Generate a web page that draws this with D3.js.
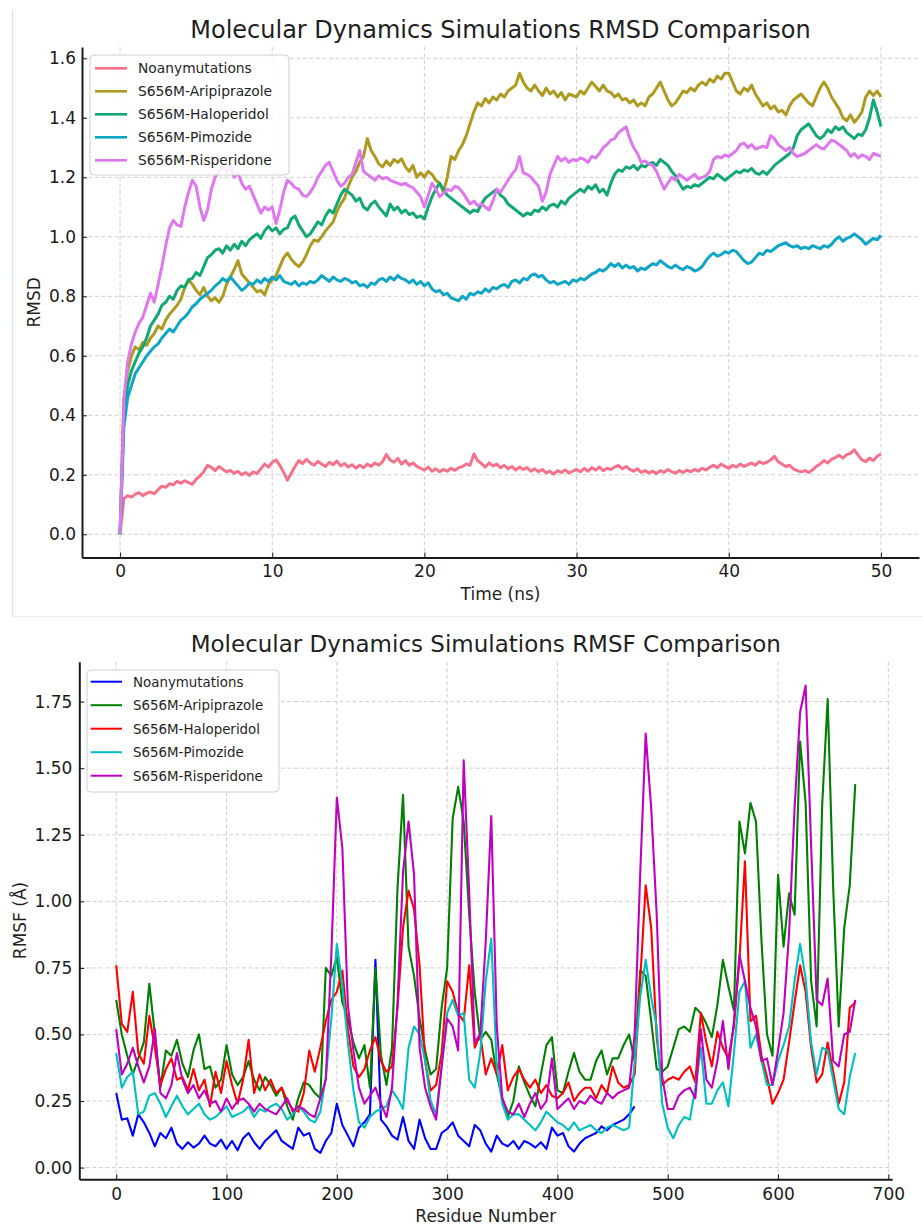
<!DOCTYPE html>
<html>
<head>
<meta charset="utf-8">
<script src="https://cdn.jsdelivr.net/npm/d3@7"></script>
<style>
  body { margin: 0; background: #fff; }
  text { font-family: "DejaVu Sans", sans-serif; }
</style>
</head>
<body>
<svg id="chart"></svg>
<script>
// ---- RMSD (top panel) ----
const rmsdSeries = ["Noanymutations", "S656M-Aripiprazole", "S656M-Haloperidol", "S656M-Pimozide", "S656M-Risperidone"];
const rmsdStep = 0.25; // ns between samples
const rmsdXTicks = [0, 10, 20, 30, 40, 50];
const rmsdYTicks = [0, 0.2, 0.4, 0.6, 0.8, 1.0, 1.2, 1.4, 1.6];

const rmsdNoMut = [0,0.12,0.13,0.125,0.135,0.14,0.13,0.138,0.142,0.136,
0.15,0.162,0.158,0.17,0.166,0.178,0.172,0.18,0.174,0.168,
0.185,0.196,0.21,0.232,0.225,0.214,0.228,0.218,0.21,0.215,
0.205,0.212,0.2,0.208,0.198,0.21,0.204,0.22,0.236,0.226,
0.242,0.25,0.232,0.208,0.182,0.205,0.228,0.248,0.238,0.252,
0.24,0.232,0.245,0.236,0.228,0.242,0.234,0.246,0.23,0.238,
0.226,0.234,0.222,0.232,0.224,0.236,0.228,0.24,0.232,0.244,
0.268,0.25,0.242,0.255,0.236,0.248,0.232,0.24,0.228,0.222,
0.216,0.226,0.212,0.22,0.21,0.218,0.212,0.222,0.215,0.224,
0.228,0.236,0.232,0.27,0.248,0.238,0.226,0.24,0.23,0.236,
0.224,0.232,0.22,0.228,0.216,0.226,0.218,0.224,0.212,0.22,
0.21,0.218,0.206,0.212,0.202,0.214,0.208,0.216,0.206,0.212,
0.218,0.21,0.222,0.212,0.224,0.216,0.226,0.214,0.222,0.218,
0.226,0.232,0.22,0.228,0.218,0.212,0.22,0.208,0.214,0.206,
0.212,0.204,0.214,0.208,0.218,0.21,0.206,0.214,0.208,0.216,
0.21,0.218,0.212,0.222,0.216,0.226,0.232,0.224,0.236,0.228,
0.222,0.232,0.226,0.236,0.228,0.234,0.24,0.232,0.244,0.238,
0.242,0.25,0.262,0.244,0.236,0.228,0.232,0.22,0.214,0.21,
0.214,0.208,0.216,0.228,0.236,0.248,0.24,0.252,0.258,0.266,
0.256,0.268,0.272,0.284,0.266,0.25,0.244,0.256,0.248,0.262,
0.27];

const rmsdAripiprazole = [0,0.45,0.55,0.6,0.63,0.62,0.645,0.635,0.66,0.675,
0.7,0.69,0.72,0.74,0.755,0.77,0.79,0.83,0.855,0.84,
0.82,0.805,0.83,0.8,0.785,0.795,0.78,0.8,0.84,0.865,
0.89,0.92,0.875,0.86,0.845,0.83,0.815,0.82,0.805,0.84,
0.855,0.87,0.9,0.93,0.945,0.925,0.91,0.9,0.915,0.94,
0.97,0.99,0.985,1.0,1.02,1.035,1.05,1.085,1.11,1.13,
1.17,1.2,1.22,1.25,1.27,1.33,1.29,1.27,1.245,1.235,
1.255,1.24,1.26,1.25,1.262,1.235,1.22,1.24,1.2,1.215,
1.2,1.22,1.21,1.19,1.18,1.15,1.2,1.27,1.26,1.29,
1.31,1.34,1.38,1.42,1.45,1.44,1.465,1.45,1.47,1.46,
1.48,1.47,1.49,1.5,1.51,1.55,1.52,1.5,1.49,1.51,
1.49,1.475,1.5,1.48,1.49,1.47,1.485,1.46,1.48,1.475,
1.47,1.49,1.48,1.5,1.52,1.505,1.49,1.51,1.49,1.485,
1.47,1.48,1.46,1.465,1.45,1.46,1.44,1.45,1.44,1.47,
1.48,1.5,1.52,1.49,1.46,1.44,1.45,1.47,1.49,1.485,
1.5,1.49,1.51,1.52,1.51,1.53,1.52,1.54,1.53,1.55,
1.55,1.52,1.49,1.48,1.5,1.49,1.51,1.48,1.46,1.44,
1.45,1.43,1.44,1.42,1.425,1.41,1.44,1.46,1.47,1.48,
1.465,1.45,1.44,1.47,1.5,1.52,1.5,1.47,1.45,1.43,
1.4,1.39,1.41,1.385,1.4,1.42,1.47,1.49,1.475,1.49,
1.47];

const rmsdHaloperidol = [0,0.4,0.5,0.55,0.58,0.61,0.63,0.66,0.7,0.72,
0.74,0.77,0.78,0.8,0.79,0.82,0.835,0.83,0.855,0.86,
0.88,0.87,0.9,0.93,0.94,0.955,0.96,0.945,0.97,0.955,
0.975,0.96,0.985,0.97,0.99,1.0,1.01,0.995,1.02,1.035,
1.02,1.03,1.01,1.025,1.03,1.06,1.07,1.04,1.02,1.0,
1.01,1.03,1.05,1.04,1.07,1.09,1.08,1.11,1.14,1.16,
1.15,1.14,1.12,1.13,1.1,1.09,1.11,1.12,1.1,1.085,
1.07,1.11,1.09,1.1,1.08,1.09,1.075,1.08,1.065,1.07,
1.06,1.1,1.135,1.16,1.18,1.16,1.14,1.13,1.12,1.11,
1.1,1.09,1.08,1.09,1.085,1.11,1.13,1.14,1.15,1.16,
1.14,1.13,1.11,1.1,1.09,1.08,1.07,1.08,1.075,1.09,
1.085,1.1,1.09,1.105,1.11,1.1,1.12,1.11,1.13,1.14,
1.15,1.16,1.15,1.17,1.16,1.175,1.15,1.16,1.14,1.18,
1.21,1.225,1.22,1.235,1.23,1.24,1.225,1.24,1.235,1.245,
1.25,1.24,1.26,1.25,1.24,1.22,1.205,1.18,1.16,1.17,
1.165,1.175,1.17,1.18,1.19,1.2,1.195,1.21,1.2,1.19,
1.2,1.21,1.22,1.215,1.225,1.22,1.23,1.215,1.21,1.22,
1.21,1.225,1.24,1.25,1.26,1.27,1.28,1.3,1.34,1.36,
1.37,1.38,1.36,1.34,1.33,1.34,1.36,1.35,1.37,1.36,
1.37,1.35,1.34,1.33,1.345,1.34,1.36,1.4,1.46,1.42,
1.37];

const rmsdPimozide = [0,0.36,0.46,0.5,0.54,0.56,0.58,0.6,0.615,0.63,
0.64,0.66,0.675,0.69,0.68,0.7,0.72,0.73,0.745,0.765,
0.775,0.79,0.8,0.81,0.82,0.835,0.845,0.86,0.85,0.865,
0.85,0.835,0.82,0.83,0.845,0.84,0.855,0.845,0.86,0.85,
0.865,0.855,0.87,0.85,0.845,0.84,0.85,0.835,0.845,0.84,
0.85,0.845,0.855,0.87,0.86,0.85,0.865,0.855,0.85,0.86,
0.855,0.845,0.85,0.835,0.84,0.83,0.845,0.84,0.855,0.86,
0.85,0.865,0.855,0.87,0.86,0.855,0.845,0.855,0.84,0.85,
0.835,0.845,0.825,0.815,0.82,0.805,0.81,0.795,0.79,0.785,
0.8,0.79,0.81,0.805,0.815,0.81,0.825,0.815,0.83,0.825,
0.835,0.84,0.83,0.85,0.855,0.845,0.86,0.855,0.87,0.875,
0.865,0.87,0.855,0.845,0.85,0.84,0.845,0.85,0.84,0.855,
0.85,0.86,0.855,0.865,0.875,0.88,0.89,0.885,0.895,0.91,
0.9,0.91,0.895,0.905,0.895,0.9,0.885,0.895,0.89,0.9,
0.91,0.905,0.92,0.91,0.9,0.895,0.905,0.895,0.89,0.9,
0.895,0.885,0.89,0.9,0.92,0.935,0.945,0.935,0.94,0.95,
0.945,0.955,0.95,0.935,0.92,0.91,0.915,0.93,0.945,0.94,
0.955,0.95,0.96,0.97,0.975,0.98,0.97,0.965,0.97,0.96,
0.965,0.96,0.97,0.965,0.96,0.97,0.965,0.975,0.99,1.0,
0.985,0.995,1.0,1.01,1.0,0.99,0.975,0.985,0.995,0.99,
1.005];

const rmsdRisperidone = [0,0.45,0.58,0.64,0.68,0.71,0.73,0.77,0.81,0.78,
0.84,0.9,0.97,1.03,1.055,1.04,1.035,1.1,1.15,1.19,
1.17,1.1,1.055,1.09,1.16,1.2,1.22,1.235,1.22,1.24,
1.2,1.215,1.18,1.16,1.17,1.14,1.11,1.08,1.1,1.09,
1.1,1.045,1.09,1.15,1.19,1.18,1.165,1.16,1.14,1.135,
1.15,1.17,1.2,1.22,1.24,1.25,1.22,1.19,1.17,1.18,
1.2,1.21,1.25,1.29,1.22,1.21,1.2,1.19,1.205,1.195,
1.2,1.19,1.185,1.18,1.175,1.18,1.17,1.165,1.15,1.135,
1.1,1.14,1.18,1.16,1.135,1.145,1.16,1.155,1.17,1.165,
1.15,1.13,1.11,1.12,1.105,1.11,1.1,1.09,1.12,1.16,
1.15,1.17,1.19,1.21,1.225,1.27,1.215,1.21,1.2,1.185,
1.17,1.12,1.15,1.21,1.24,1.27,1.255,1.265,1.25,1.26,
1.255,1.265,1.26,1.25,1.27,1.265,1.28,1.3,1.31,1.325,
1.33,1.35,1.36,1.37,1.33,1.3,1.28,1.25,1.255,1.245,
1.24,1.22,1.19,1.16,1.18,1.2,1.19,1.21,1.2,1.19,
1.2,1.21,1.195,1.2,1.205,1.22,1.26,1.27,1.265,1.275,
1.27,1.28,1.29,1.31,1.315,1.3,1.31,1.295,1.3,1.305,
1.3,1.34,1.33,1.31,1.3,1.29,1.3,1.28,1.27,1.275,
1.28,1.29,1.3,1.31,1.3,1.295,1.31,1.325,1.32,1.31,
1.3,1.29,1.27,1.28,1.265,1.275,1.27,1.26,1.28,1.275,
1.27];

// ---- RMSF (bottom panel) ----
const rmsfSeries = ["Noanymutations", "S656M-Aripiprazole", "S656M-Haloperidol", "S656M-Pimozide", "S656M-Risperidone"];
const rmsfStep = 5; // residues between samples
const rmsfXTicks = [0, 100, 200, 300, 400, 500, 600, 700];
const rmsfYTicks = [0, 0.25, 0.5, 0.75, 1.0, 1.25, 1.5, 1.75];

const rmsfNoMut = [0.28,0.18,0.185,0.12,0.2,0.17,0.13,0.08,0.13,0.11,
0.15,0.09,0.07,0.095,0.075,0.09,0.12,0.09,0.08,0.105,
0.07,0.1,0.065,0.11,0.13,0.095,0.07,0.1,0.12,0.14,
0.1,0.085,0.07,0.15,0.12,0.13,0.07,0.055,0.1,0.13,
0.24,0.16,0.12,0.08,0.15,0.17,0.2,0.78,0.18,0.155,
0.12,0.105,0.19,0.1,0.07,0.18,0.11,0.07,0.07,0.13,
0.145,0.17,0.12,0.1,0.08,0.16,0.14,0.09,0.06,0.12,
0.09,0.08,0.1,0.07,0.1,0.09,0.075,0.095,0.07,0.15,
0.12,0.13,0.08,0.06,0.09,0.11,0.12,0.13,0.155,0.14,
0.16,0.17,0.18,0.2,0.23];

const rmsfAripiprazole = [0.63,0.5,0.42,0.35,0.41,0.47,0.69,0.5,0.3,0.44,
0.42,0.48,0.39,0.34,0.44,0.5,0.37,0.38,0.3,0.33,
0.46,0.35,0.31,0.34,0.4,0.33,0.29,0.34,0.31,0.27,
0.3,0.23,0.18,0.26,0.32,0.31,0.28,0.26,0.75,0.72,
0.79,0.62,0.56,0.47,0.41,0.46,0.3,0.75,0.42,0.31,
0.45,1.05,1.4,0.83,0.72,0.56,0.44,0.35,0.37,0.6,
0.75,1.31,1.43,1.3,0.95,0.66,0.48,0.51,0.48,0.35,
0.26,0.19,0.25,0.38,0.32,0.27,0.23,0.35,0.46,0.49,
0.29,0.28,0.36,0.43,0.36,0.33,0.33,0.4,0.44,0.35,
0.41,0.41,0.46,0.5,0.4,0.74,0.72,0.55,0.37,0.36,
0.38,0.45,0.52,0.53,0.51,0.6,0.58,0.54,0.49,0.61,
0.78,0.68,0.59,1.3,1.18,1.37,1.3,0.85,0.5,0.42,
1.1,0.83,1.03,0.95,1.6,1.37,0.7,0.53,1.36,1.76,
1.05,0.53,0.9,1.06,1.44];

const rmsfHaloperidol = [0.76,0.54,0.51,0.66,0.43,0.39,0.57,0.45,0.31,0.37,
0.41,0.33,0.34,0.29,0.37,0.29,0.33,0.23,0.36,0.28,
0.4,0.31,0.24,0.33,0.48,0.28,0.35,0.29,0.33,0.28,
0.3,0.25,0.22,0.21,0.28,0.44,0.36,0.45,0.55,0.63,
0.66,0.74,0.52,0.38,0.34,0.37,0.44,0.49,0.4,0.36,
0.38,0.6,0.9,1.04,0.97,0.76,0.4,0.29,0.31,0.43,
0.7,0.66,0.58,0.55,0.76,0.45,0.5,0.35,0.41,0.35,
0.46,0.29,0.34,0.37,0.33,0.3,0.33,0.28,0.31,0.27,
0.26,0.28,0.32,0.25,0.28,0.3,0.3,0.26,0.31,0.28,
0.38,0.32,0.3,0.31,0.35,0.7,1.06,0.9,0.49,0.31,
0.33,0.34,0.33,0.36,0.38,0.32,0.58,0.47,0.38,0.51,
0.45,0.41,0.53,0.78,1.15,0.55,0.57,0.42,0.34,0.24,
0.28,0.33,0.47,0.62,0.76,0.66,0.45,0.32,0.35,0.47,
0.36,0.24,0.32,0.6,0.62];

const rmsfPimozide = [0.43,0.3,0.34,0.36,0.2,0.21,0.27,0.28,0.24,0.19,
0.23,0.27,0.23,0.2,0.22,0.24,0.2,0.18,0.19,0.21,
0.23,0.19,0.2,0.21,0.23,0.19,0.22,0.21,0.23,0.24,
0.22,0.18,0.2,0.23,0.21,0.18,0.17,0.21,0.34,0.56,
0.84,0.68,0.47,0.29,0.17,0.15,0.19,0.21,0.22,0.23,
0.29,0.26,0.22,0.45,0.53,0.5,0.4,0.25,0.2,0.38,
0.58,0.63,0.57,0.58,0.33,0.3,0.43,0.7,0.86,0.38,
0.24,0.18,0.2,0.2,0.18,0.16,0.14,0.17,0.21,0.19,
0.17,0.16,0.14,0.17,0.14,0.15,0.16,0.14,0.13,0.15,
0.16,0.15,0.14,0.15,0.4,0.64,0.78,0.64,0.53,0.24,
0.15,0.11,0.16,0.19,0.18,0.3,0.45,0.24,0.24,0.29,
0.32,0.23,0.43,0.66,0.7,0.45,0.5,0.4,0.31,0.31,
0.4,0.46,0.53,0.7,0.84,0.71,0.47,0.35,0.45,0.44,
0.33,0.22,0.2,0.34,0.43];

const rmsfRisperidone = [0.52,0.35,0.39,0.45,0.38,0.32,0.38,0.52,0.28,0.26,
0.31,0.43,0.33,0.28,0.31,0.26,0.29,0.24,0.25,0.21,
0.26,0.22,0.25,0.26,0.24,0.21,0.24,0.22,0.21,0.2,
0.23,0.26,0.21,0.23,0.22,0.2,0.19,0.26,0.33,0.8,
1.39,1.2,0.61,0.44,0.3,0.24,0.27,0.3,0.24,0.19,
0.3,0.62,1.11,1.3,1.1,0.45,0.3,0.23,0.18,0.38,
0.56,0.53,0.44,1.53,1.03,0.47,0.5,0.85,1.32,0.53,
0.26,0.21,0.2,0.24,0.19,0.24,0.28,0.22,0.25,0.41,
0.22,0.24,0.26,0.22,0.25,0.24,0.27,0.25,0.24,0.28,
0.26,0.28,0.29,0.3,0.5,1.1,1.63,1.35,0.95,0.34,
0.22,0.22,0.27,0.29,0.3,0.26,0.52,0.33,0.3,0.4,
0.55,0.37,0.55,0.8,0.7,0.6,0.53,0.4,0.41,0.31,
0.44,0.58,0.88,1.35,1.71,1.81,1.21,0.63,0.61,0.71,
0.4,0.38,0.5,0.51,0.63];

const rmsdColors = ["#f7718a", "#ae9a20", "#12a874", "#0ea5c6", "#df78ef"];
const rmsfColors = ["#0000ff", "#007f00", "#ff0000", "#00bfbf", "#bf00bf"];

const W = 923, H = 1227;
const svg = d3.select("#chart").attr("width", W).attr("height", H);

// faint frame left over from the screenshot
svg.append("line").attr("x1", 12.5).attr("x2", 12.5).attr("y1", 10).attr("y2", 616)
    .attr("stroke", "#d4e0ec").attr("stroke-width", 1.2);
svg.append("line").attr("x1", 12).attr("x2", W).attr("y1", 616.5).attr("y2", 616.5)
    .attr("stroke", "#ececec").attr("stroke-width", 1);

function panel(cfg) {
    const x = d3.scaleLinear().domain(cfg.xDomain).range([cfg.left, cfg.right]);
    const y = d3.scaleLinear().domain(cfg.yDomain).range([cfg.bottom, cfg.top]);
    const g = svg.append("g");

    // grid
    g.append("g").selectAll("line").data(cfg.yTicks).enter().append("line")
        .attr("x1", cfg.left).attr("x2", cfg.right)
        .attr("y1", d => y(d)).attr("y2", d => y(d))
        .attr("stroke", "#cfcfcf").attr("stroke-width", 1).attr("stroke-dasharray", "4,2.5");
    g.append("g").selectAll("line").data(cfg.xTicks).enter().append("line")
        .attr("y1", cfg.top).attr("y2", cfg.bottom)
        .attr("x1", d => x(d)).attr("x2", d => x(d))
        .attr("stroke", "#cfcfcf").attr("stroke-width", 1).attr("stroke-dasharray", "4,2.5");

    // lines
    const line = d3.line().x(d => x(d[0])).y(d => y(d[1]));
    cfg.values.forEach((vals, i) => {
        const pts = vals.map((v, k) => [k * cfg.step, v]);
        g.append("path").datum(pts)
            .attr("d", line)
            .attr("fill", "none")
            .attr("stroke", cfg.colors[i])
            .attr("stroke-width", cfg.lineWidth)
            .attr("stroke-linejoin", "round");
    });

    // axes
    const ax = g.append("g").attr("transform", `translate(0,${cfg.bottom})`)
        .call(d3.axisBottom(x).tickValues(cfg.xTicks).tickFormat(d3.format("d"))
            .tickSize(-5).tickSizeOuter(0).tickPadding(cfg.xPad));
    const ay = g.append("g").attr("transform", `translate(${cfg.left},0)`)
        .call(d3.axisLeft(y).tickValues(cfg.yTicks).tickFormat(d3.format(cfg.yFormat))
            .tickSize(-5).tickSizeOuter(0).tickPadding(cfg.yPad));
    [ax, ay].forEach(a => {
        a.select(".domain").attr("stroke", "#1a1a1a").attr("stroke-width", 2);
        a.selectAll(".tick line").attr("stroke", "#1a1a1a").attr("stroke-width", 1);
        a.selectAll("text").attr("font-family", "DejaVu Sans").attr("font-size", cfg.tickFont).attr("fill", "#1a1a1a");
    });

    // title and labels
    svg.append("text").attr("x", (cfg.left + cfg.right) / 2).attr("y", cfg.titleY)
        .attr("text-anchor", "middle").attr("font-size", cfg.titleFont).attr("fill", "#1f1f1f")
        .text(cfg.title);
    svg.append("text").attr("x", (cfg.left + cfg.right) / 2).attr("y", cfg.xLabelY)
        .attr("text-anchor", "middle").attr("font-size", 17).attr("fill", "#1f1f1f")
        .text(cfg.xLabel);
    svg.append("text")
        .attr("transform", `translate(${cfg.yLabelX},${(cfg.top + cfg.bottom) / 2}) rotate(-90)`)
        .attr("text-anchor", "middle").attr("font-size", 17).attr("fill", "#1f1f1f")
        .text(cfg.yLabel);

    // legend
    const L = cfg.legend;
    const lg = svg.append("g");
    lg.append("rect").attr("x", L.x).attr("y", L.y).attr("width", L.w).attr("height", L.h)
        .attr("rx", 4).attr("fill", "#fff").attr("fill-opacity", 0.85)
        .attr("stroke", "#d0d0d0").attr("stroke-width", 1);
    cfg.names.forEach((name, i) => {
        const cy = L.firstY + i * L.gap;
        lg.append("line").attr("x1", L.hx1).attr("x2", L.hx2).attr("y1", cy).attr("y2", cy)
            .attr("stroke", cfg.colors[i]).attr("stroke-width", L.hw);
        lg.append("text").attr("x", L.tx).attr("y", cy).attr("dy", "0.36em")
            .attr("font-size", L.font).attr("fill", "#1f1f1f").text(name);
    });
}

panel({
    title: "Molecular Dynamics Simulations RMSD Comparison", titleY: 38, titleFont: 24,
    xLabel: "Time (ns)", xLabelY: 600, yLabel: "RMSD", yLabelX: 40,
    left: 82, right: 919, top: 47, bottom: 557.5,
    xDomain: [-2.5, 52.5], yDomain: [-0.078, 1.638],
    xTicks: rmsdXTicks, yTicks: rmsdYTicks, yFormat: ".1f",
    xPad: 7.7, yPad: 6, tickFont: 17,
    step: rmsdStep, lineWidth: 3, colors: rmsdColors, names: rmsdSeries,
    values: [rmsdNoMut, rmsdAripiprazole, rmsdHaloperidol, rmsdPimozide, rmsdRisperidone],
    legend: { x: 90, y: 55, w: 199, h: 120, firstY: 68.3, gap: 23, hx1: 95, hx2: 127, hw: 2.6, tx: 138, font: 13.8 }
});

panel({
    title: "Molecular Dynamics Simulations RMSF Comparison", titleY: 652, titleFont: 23,
    xLabel: "Residue Number", xLabelY: 1222, yLabel: "RMSF (Å)", yLabelX: 26,
    left: 79.3, right: 892.2, top: 661.7, bottom: 1179.3,
    xDomain: [-33.5, 703.5], yDomain: [-0.044, 1.90],
    xTicks: rmsfXTicks, yTicks: rmsfYTicks, yFormat: ".2f",
    xPad: 8.6, yPad: 7, tickFont: 17,
    step: rmsfStep, lineWidth: 2.1, colors: rmsfColors, names: rmsfSeries,
    values: [rmsfNoMut, rmsfAripiprazole, rmsfHaloperidol, rmsfPimozide, rmsfRisperidone],
    legend: { x: 87, y: 670, w: 192, h: 122, firstY: 681.7, gap: 23.5, hx1: 90.7, hx2: 122, hw: 2, tx: 133, font: 13.4 }
});
</script>
</body>
</html>
